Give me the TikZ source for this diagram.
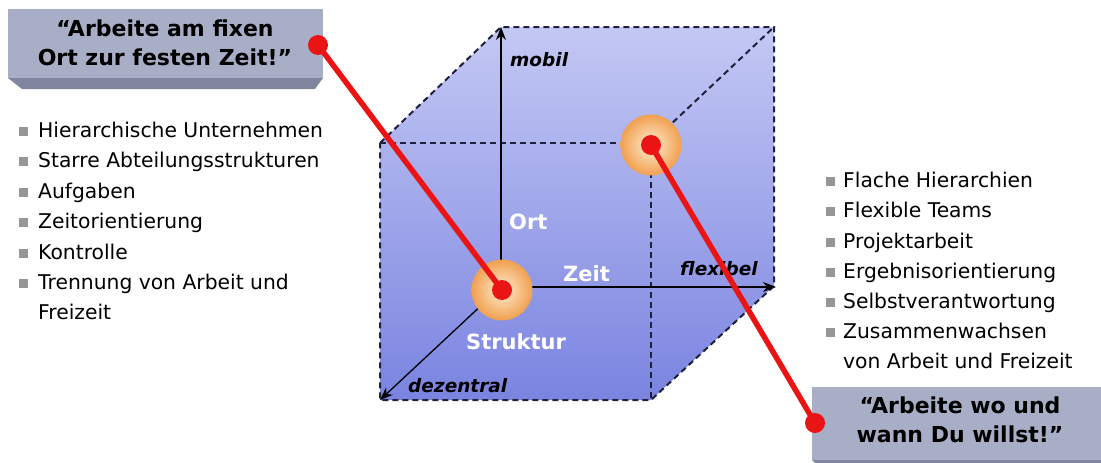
\documentclass[tikz,border=0pt]{standalone}
\usepackage{fontspec}
\setmainfont{DejaVu Sans}
\usetikzlibrary{arrows.meta}
\definecolor{boxface}{RGB}{168,174,198}
\definecolor{boxedge}{RGB}{128,134,158}
\definecolor{cubetop}{RGB}{196,200,244}
\definecolor{cubebot}{RGB}{122,132,224}
\definecolor{dashcol}{RGB}{30,32,60}
\definecolor{redc}{RGB}{235,20,20}
\definecolor{bulletc}{RGB}{150,150,150}
\definecolor{spherein}{RGB}{255,238,210}
\definecolor{sphereout}{RGB}{240,160,80}
\tikzset{
  cubeedge/.style={draw=dashcol,line width=2pt,dash pattern=on 6pt off 4pt},
  axis/.style={draw=black,line width=1.3pt,-{Stealth[length=13pt,width=10pt]}},
  redline/.style={draw=redc,line width=5.5pt},
  reddot/.style={circle,fill=redc,minimum size=20pt,inner sep=0pt},
  sphere/.style={circle,minimum size=61pt,inner sep=0pt,inner color=spherein,outer color=sphereout},
  item/.style={anchor=base west,font=\fontsize{20.3}{23}\selectfont,inner sep=0pt},
  bulletsq/.style={fill=bulletc,minimum size=9pt,inner sep=0pt},
  boxtext/.style={align=center,font=\fontsize{22}{29}\selectfont\bfseries,inner sep=0pt},
  axlabel/.style={anchor=base west,font=\fontsize{18.5}{20}\selectfont\bfseries\itshape,inner sep=0pt},
  inlabel/.style={anchor=base west,font=\fontsize{21}{23}\selectfont\bfseries,text=white,inner sep=0pt}
}
\begin{document}
\begin{tikzpicture}[x=1pt,y=-1pt]
\useasboundingbox (0,0) rectangle (1101,463);
% cube
\shade[top color=cubetop,bottom color=cubebot]
  (380,143) -- (501,27) -- (774,27) -- (774,286) -- (651,400) -- (380,400) -- cycle;
\path[cubeedge] (380,143) -- (501,27) -- (774,27) -- (774,286) -- (651,400) -- (380,400) -- cycle;
\path[cubeedge] (380,143) -- (651,143) -- (651,400);
\path[cubeedge] (651,143) -- (774,27);
% axes
\coordinate (o) at (501,287);
\coordinate (up) at (501,27);
\coordinate (rt) at (776,287);
\coordinate (dn) at (380,400);
\draw[axis] (o) -- (up);
\draw[axis] (o) -- (rt);
\draw[axis] (o) -- (dn);
\node[axlabel] (mobil) at (510,66) {mobil};
\node[axlabel] (flex) at (680,275) {flexibel};
\node[axlabel] (dez) at (408,392) {dezentral};
\node[inlabel] (ort) at (509,229) {Ort};
\node[inlabel] (zeit) at (563,281) {Zeit};
\node[inlabel] (struk) at (466,349) {Struktur};
% spheres
\node[sphere] (s1) at (502,290) {};
\node[sphere] (s2) at (651,145) {};
% boxes
\fill[boxedge] (8,78) -- (323,78) -- (315,89) -- (22,89) -- cycle;
\node[fill=boxface,minimum width=315pt,minimum height=69pt,inner sep=0pt] (lbox) at (165.5,43.5) {};
\node[boxtext] (ltext) at (165,43) {“Arbeite am fixen\\Ort zur festen Zeit!”};
\fill[boxedge] (812,460) -- (1101,460) -- (1101,463) -- (815,463) -- cycle;
\node[fill=boxface,minimum width=289pt,minimum height=73pt,inner sep=0pt] (rbox) at (956.5,423.5) {};
\node[boxtext] (rtext) at (960,420) {“Arbeite wo und\\wann Du willst!”};
% red connectors
\node[reddot] (ld) at (318,45) {};
\node[reddot] (c1) at (s1.center) {};
\node[reddot] (c2) at (s2.center) {};
\node[reddot] (rd) at (815,423) {};
\draw[redline] (ld.center) -- (c1.center);
\draw[redline] (c2.center) -- (rd.center);
% left list
\foreach \t/\y [count=\i] in {Hierarchische Unternehmen/137,Starre Abteilungsstrukturen/167,Aufgaben/198,Zeitorientierung/228,Kontrolle/259,Trennung von Arbeit und/289}{
  \node[bulletsq] (lb\i) at (23,\y-6) {};
  \node[item] (li\i) at (38,\y) {\t};
}
\node[item] (li7) at (38,319) {Freizeit};
% right list
\foreach \t/\y [count=\i] in {Flache Hierarchien/187,Flexible Teams/217,Projektarbeit/248,Ergebnisorientierung/278,Selbstverantwortung/308,Zusammenwachsen/338}{
  \node[bulletsq] (rb\i) at (830,\y-6) {};
  \node[item] (ri\i) at (843,\y) {\t};
}
\node[item] (ri7) at (843,368) {von Arbeit und Freizeit};
\end{tikzpicture}
\end{document}
